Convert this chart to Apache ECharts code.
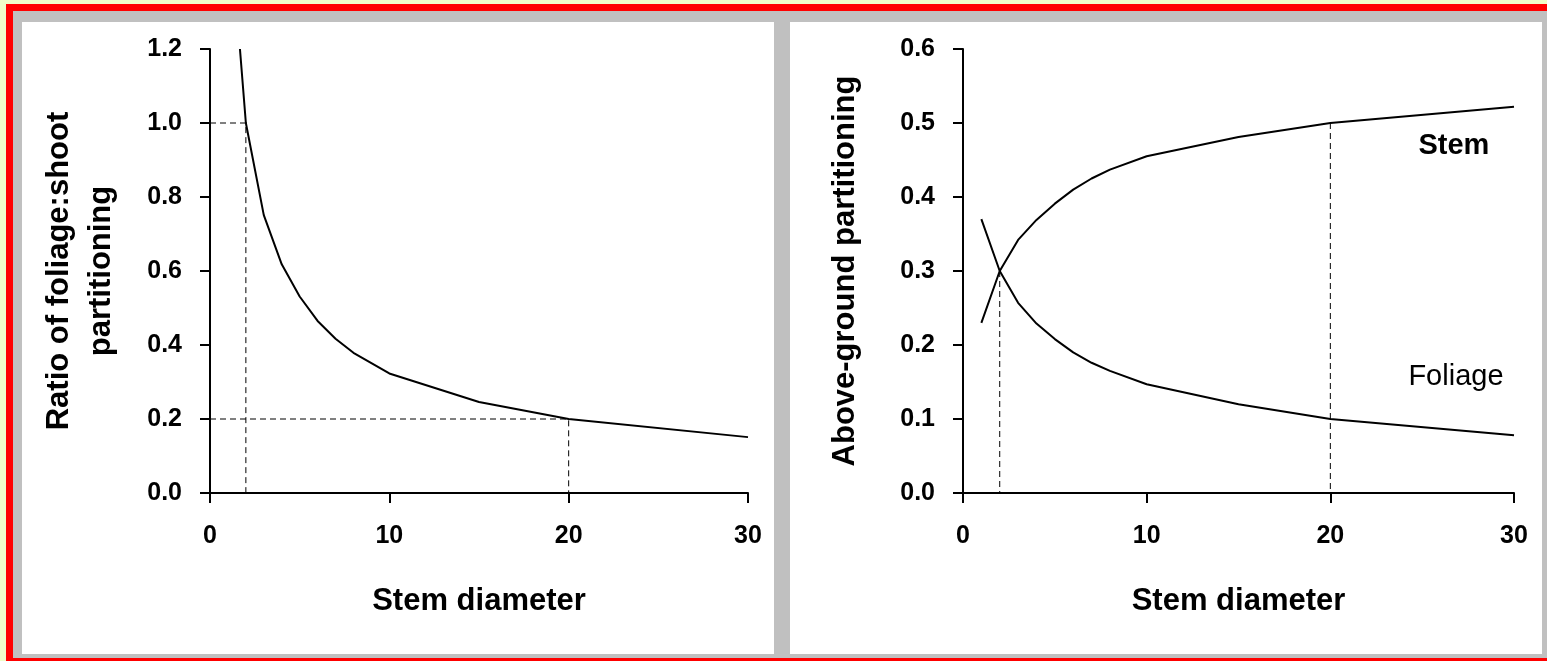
<!DOCTYPE html>
<html>
<head>
<meta charset="utf-8">
<script src="https://cdn.jsdelivr.net/npm/echarts@6/dist/echarts.min.js"></script>
<style>
  html, body { margin: 0; padding: 0; width: 1547px; height: 661px; overflow: hidden; background: #f0fcc8; }
  .abs { position: absolute; }
  #red { left: 6px; top: 4px; width: 1560px; height: 670px; background: #ff0000; }
  #gray { left: 13px; top: 11px; width: 1550px; height: 647px; background: #c0c0c0; }
  #p1 { left: 22px; top: 22px; width: 752px; height: 632px; background: #ffffff; }
  #p2 { left: 790px; top: 22px; width: 752px; height: 632px; background: #ffffff; }
  #chart { left: 0; top: 0; width: 1547px; height: 661px; }
</style>
</head>
<body>
<div id="red" class="abs"></div>
<div id="gray" class="abs"></div>
<div id="p1" class="abs"></div>
<div id="p2" class="abs"></div>
<div id="chart" class="abs"></div>
<script>
// ---- data ----
const ratioDiameter = [1.67, 2, 3, 4, 5, 6, 7, 8, 10, 15, 20, 30];
const ratioValues   = [1.2, 1.0, 0.751, 0.618, 0.531, 0.465, 0.417, 0.379, 0.323, 0.246, 0.2, 0.151];

const partDiameter  = [1, 2, 3, 4, 5, 6, 7, 8, 10, 15, 20, 30];
const stemValues    = [0.23, 0.30, 0.342, 0.369, 0.391, 0.41, 0.425, 0.437, 0.455, 0.481, 0.50, 0.522];
const foliageValues = [0.37, 0.30, 0.257, 0.229, 0.208, 0.19, 0.176, 0.165, 0.147, 0.12, 0.10, 0.078];

// dashed guide lines (in data units)
const leftGuide1  = [[0, 1.0], [2, 1.0], [2, 0]];
const leftGuide2  = [[0, 0.2], [20, 0.2], [20, 0]];
const rightGuide1 = [[2, 0.3], [2, 0]];
const rightGuide2 = [[20, 0.5], [20, 0]];

const xTicks = [0, 10, 20, 30];
const leftYTicks = [0.0, 0.2, 0.4, 0.6, 0.8, 1.0, 1.2];
const rightYTicks = [0.0, 0.1, 0.2, 0.3, 0.4, 0.5, 0.6];

const seriesLabels = [
  { name: 'Stem', value: [26.73, 0.469], bold: true },
  { name: 'Foliage', value: [26.84, 0.157], bold: false }
];

const xTitle = 'Stem diameter';
const leftYTitle = 'Ratio of foliage:shoot\npartitioning';
const rightYTitle = 'Above-ground partitioning';

// ---- chart ----
const FONT = "'Liberation Sans', Arial, sans-serif";
const zip = (a, b) => a.map((v, i) => [v, b[i]]);

function xAxisCfg(gi) {
  return {
    gridIndex: gi, type: 'value',
    min: xTicks[0], max: xTicks[xTicks.length - 1], interval: xTicks[1] - xTicks[0],
    axisLine: { show: true, lineStyle: { color: '#000', width: 2 } },
    axisTick: { show: true, length: 10, lineStyle: { color: '#000', width: 2 } },
    axisLabel: { color: '#000', fontSize: 25, fontWeight: 'bold', fontFamily: FONT, margin: 31 },
    splitLine: { show: false },
    name: xTitle, nameLocation: 'middle', nameGap: 93,
    nameTextStyle: { color: '#000', fontSize: 31, fontWeight: 'bold', fontFamily: FONT, lineHeight: 30 }
  };
}
function yAxisCfg(gi, ticks, name, gap, lh) {
  return {
    gridIndex: gi, type: 'value',
    min: ticks[0], max: ticks[ticks.length - 1], interval: ticks[1] - ticks[0],
    axisLine: { show: true, lineStyle: { color: '#000', width: 2 } },
    axisTick: { show: true, length: 10, lineStyle: { color: '#000', width: 2 } },
    axisLabel: { color: '#000', fontSize: 25, fontWeight: 'bold', fontFamily: FONT, margin: 28,
                 formatter: v => v.toFixed(1) },
    splitLine: { show: false },
    name: name, nameLocation: 'middle', nameGap: gap,
    nameTextStyle: { color: '#000', fontSize: 31, fontWeight: 'bold', fontFamily: FONT, lineHeight: lh }
  };
}
const solid = { color: '#000', width: 2 };
const dashed = { color: '#000', width: 1, type: [6, 4] };
function lineSeries(xi, data, style) {
  return { type: 'line', xAxisIndex: xi, yAxisIndex: xi, data: data, showSymbol: false, symbol: 'none',
           lineStyle: style, silent: true, z: style.width === 2 ? 3 : 2 };
}

const chart = echarts.init(document.getElementById('chart'), null, { renderer: 'canvas' });
chart.setOption({
  animation: false,
  backgroundColor: 'transparent',
  grid: [
    { left: 210, top: 49, width: 538, height: 444 },
    { left: 963, top: 49, width: 551, height: 444 }
  ],
  xAxis: [xAxisCfg(0), xAxisCfg(1)],
  yAxis: [
    yAxisCfg(0, leftYTicks, leftYTitle, 88, 42),
    yAxisCfg(1, rightYTicks, rightYTitle, 103, 30)
  ],
  series: [
    lineSeries(0, leftGuide1, dashed),
    lineSeries(0, leftGuide2, dashed),
    lineSeries(0, zip(ratioDiameter, ratioValues), solid),
    lineSeries(1, rightGuide1, dashed),
    lineSeries(1, rightGuide2, dashed),
    lineSeries(1, zip(partDiameter, stemValues), solid),
    lineSeries(1, zip(partDiameter, foliageValues), solid),
    {
      type: 'scatter', xAxisIndex: 1, yAxisIndex: 1, symbolSize: 0, silent: true,
      itemStyle: { color: '#000', opacity: 1 },
      data: seriesLabels.map(l => ({
        name: l.name, value: l.value,
        label: { show: true, position: [0, 0], align: 'center', verticalAlign: 'middle',
                 formatter: l.name, color: '#000', opacity: 1, textBorderWidth: 0,
                 fontSize: 29, fontFamily: FONT, fontWeight: l.bold ? 'bold' : 'normal' }
      }))
    }
  ]
});
</script>
</body>
</html>
